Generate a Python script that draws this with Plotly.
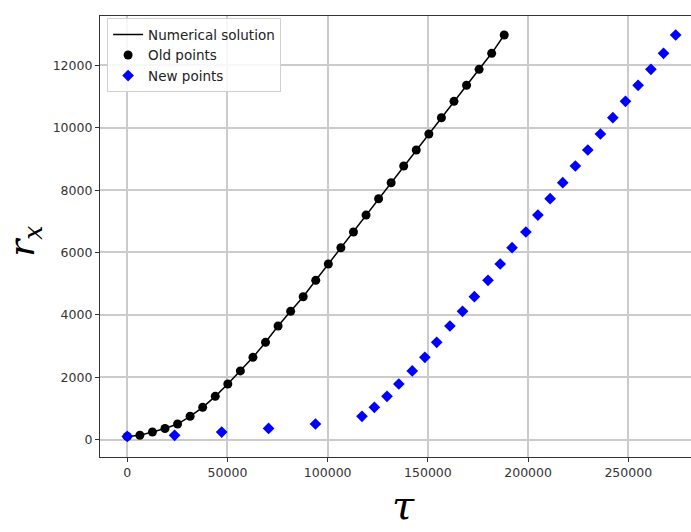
import plotly.graph_objects as go

# Old points / numerical solution
old_tau = [0, 6270, 12540, 18810, 25080, 31350, 37620, 43890, 50160, 56430,
           62700, 68970, 75240, 81510, 87780, 94050, 100320, 106590, 112860, 119130,
           125400, 131670, 137940, 144210, 150480, 156750, 163020, 169290, 175560,
           181830, 188100]
old_rx = [100, 135, 240, 355, 497, 745, 1033, 1385, 1780, 2200,
          2637, 3118, 3641, 4112, 4581, 5107, 5630, 6153, 6657, 7200,
          7725, 8238, 8774, 9287, 9800, 10323, 10849, 11363, 11876, 12389, 12976]

# New points
new_tau = [0, 23600, 47100, 70500, 93900, 117120, 123300, 129600, 135500, 142200,
           148500, 154400, 161000, 167300, 173200, 180000, 186100, 192000, 198900,
           204900, 211000, 217300, 223600, 229800, 236100, 242300, 248600, 254900,
           261300, 267600, 273650]
new_rx = old_rx[:]

x_ticks = [0, 50000, 100000, 150000, 200000, 250000]
y_ticks = [0, 2000, 4000, 6000, 8000, 10000, 12000]

fig = go.Figure()
fig.add_trace(go.Scatter(x=old_tau, y=old_rx, mode="lines", name="Numerical solution",
                         line=dict(color="black", width=1.5)))
fig.add_trace(go.Scatter(x=old_tau, y=old_rx, mode="markers", name="Old points",
                         marker=dict(color="black", size=9, symbol="circle")))
fig.add_trace(go.Scatter(x=new_tau, y=new_rx, mode="markers", name="New points",
                         marker=dict(color="#0000ff", size=9, symbol="diamond")))

axis_common = dict(
    showgrid=True, gridcolor="#cbcbcb", gridwidth=1.5,
    zeroline=False, showline=True, linecolor="#333333", linewidth=1.2,
    ticks="outside", ticklen=4, tickcolor="#333333", tickwidth=1,
    tickfont=dict(family="DejaVu Sans", size=12.5, color="#333333"),
    tickformat="d",
)

fig.update_layout(
    width=691, height=532,
    margin=dict(l=100, r=0, t=16, b=75),
    paper_bgcolor="white", plot_bgcolor="white",
    xaxis=dict(range=[-13620, 281300], tickvals=x_ticks, mirror=True, **axis_common),
    yaxis=dict(range=[-561, 13586], tickvals=y_ticks, mirror=False, **axis_common),
    showlegend=True,
    legend=dict(x=0.012, y=0.995, xanchor="left", yanchor="top",
                bgcolor="rgba(255,255,255,0.85)", bordercolor="#d0d0d0", borderwidth=1,
                font=dict(family="DejaVu Sans", size=13.5, color="#222222"),
                tracegroupgap=0),
    annotations=[
        dict(text="<i>τ</i>", xref="paper", yref="paper", x=0.513, y=-0.109,
             xanchor="center", yanchor="middle", showarrow=False,
             font=dict(family="DejaVu Serif", size=40, color="black")),
        dict(text="<i>r</i><sub><i>x</i></sub>", xref="paper", yref="paper", x=-0.127, y=0.49,
             xanchor="center", yanchor="middle", showarrow=False, textangle=-90,
             font=dict(family="DejaVu Serif", size=36, color="black")),
    ],
)

fig.write_html("out.html")
